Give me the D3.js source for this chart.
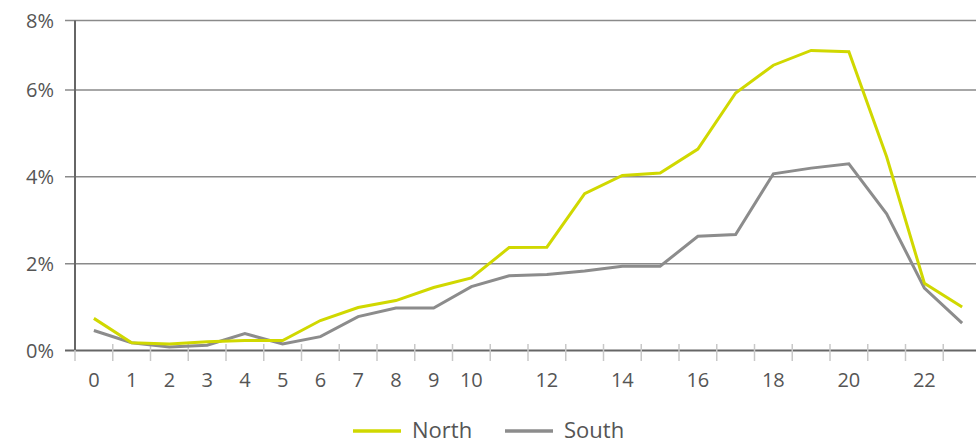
<!DOCTYPE html>
<html>
<head>
<meta charset="utf-8">
<script src="https://cdn.jsdelivr.net/npm/d3@7"></script>
<style>
  body { margin: 0; background: #fff; }
  text { font-family: "Open Sans", sans-serif; fill: #555; }
</style>
</head>
<body>
<div id="chart"></div>
<script>
// hours of the day
const hours = d3.range(0, 24);
const hourLabels = [0, 1, 2, 3, 4, 5, 6, 7, 8, 9, 10, 12, 14, 16, 18, 20, 22];

// share per hour (%)
const north = [0.74, 0.18, 0.15, 0.2, 0.23, 0.23, 0.69, 0.99, 1.15, 1.45, 1.67, 2.37,
  2.38, 3.61, 4.03, 4.09, 4.64, 5.93, 6.57, 6.91, 6.88, 4.46, 1.55, 1.0];
const south = [0.46, 0.18, 0.08, 0.12, 0.39, 0.15, 0.32, 0.78, 0.98, 0.98, 1.47, 1.72,
  1.75, 1.83, 1.94, 1.94, 2.63, 2.67, 4.07, 4.2, 4.3, 3.15, 1.44, 0.63];

const yTicks = [0, 2, 4, 6];

const width = 976, height = 445;
const margin = { top: 20, right: 0, bottom: 95, left: 75 };
const bandW = 37.75;

const svg = d3.select("#chart").append("svg")
  .attr("width", width).attr("height", height);

const x = d3.scaleBand()
  .domain(hours)
  .range([margin.left, margin.left + bandW * hours.length])
  .padding(0);

// 2% step is ~87px, top frame sits a bit under 8%
const y = d3.scaleLinear()
  .domain([0, 7.6])
  .range([350.5, 20.5]);

// gridlines
svg.append("g").selectAll("line")
  .data(yTicks.concat([7.6]))
  .enter().append("line")
  .attr("x1", margin.left - 10).attr("x2", width)
  .attr("y1", d => y(d)).attr("y2", d => y(d))
  .attr("stroke", d => d === 0 ? "#666" : "#8a8a8a")
  .attr("stroke-width", d => d === 0 ? 2 : 1.5);

// y labels
svg.append("g").selectAll("text")
  .data(yTicks.concat([7.6]))
  .enter().append("text")
  .attr("x", 54).attr("y", d => y(d) + 7)
  .attr("text-anchor", "end")
  .style("font-size", "20px")
  .text(d => (d === 7.6 ? 8 : d) + "%");

// left axis line
svg.append("line")
  .attr("x1", margin.left).attr("x2", margin.left)
  .attr("y1", y(7.6)).attr("y2", y(0))
  .attr("stroke", "#666").attr("stroke-width", 2);

// x ticks at band boundaries
svg.append("g").selectAll("line")
  .data(hours.slice(1))
  .enter().append("line")
  .attr("x1", d => x(d)).attr("x2", d => x(d))
  .attr("y1", 344).attr("y2", 361)
  .attr("stroke", "#c8c8c8").attr("stroke-width", 1.5);

svg.append("line")
  .attr("x1", margin.left).attr("x2", margin.left)
  .attr("y1", 350).attr("y2", 361)
  .attr("stroke", "#c8c8c8").attr("stroke-width", 1.5);

// x labels
svg.append("g").selectAll("text")
  .data(hourLabels)
  .enter().append("text")
  .attr("x", d => x(d) + x.bandwidth() / 2)
  .attr("y", 387)
  .attr("text-anchor", "middle")
  .style("font-size", "20px")
  .text(d => d);

const line = d3.line()
  .x((d, i) => x(hours[i]) + x.bandwidth() / 2)
  .y(d => y(d));

const series = [
  { name: "North", values: north, color: "#d0d800" },
  { name: "South", values: south, color: "#8c8c8c" }
];

// south drawn first, north on top
svg.append("path").datum(south)
  .attr("d", line).attr("fill", "none")
  .attr("stroke", "#8c8c8c").attr("stroke-width", 3);
svg.append("path").datum(north)
  .attr("d", line).attr("fill", "none")
  .attr("stroke", "#d0d800").attr("stroke-width", 3);

// legend
const legend = svg.append("g").selectAll("g")
  .data(series)
  .enter().append("g")
  .attr("transform", (d, i) => `translate(${353 + i * 152},431)`);

legend.append("line")
  .attr("x1", 0).attr("x2", 48)
  .attr("stroke", d => d.color).attr("stroke-width", 3.5);

legend.append("text")
  .attr("x", 59).attr("y", 7)
  .style("font-size", "22px")
  .text(d => d.name);
</script>
</body>
</html>
